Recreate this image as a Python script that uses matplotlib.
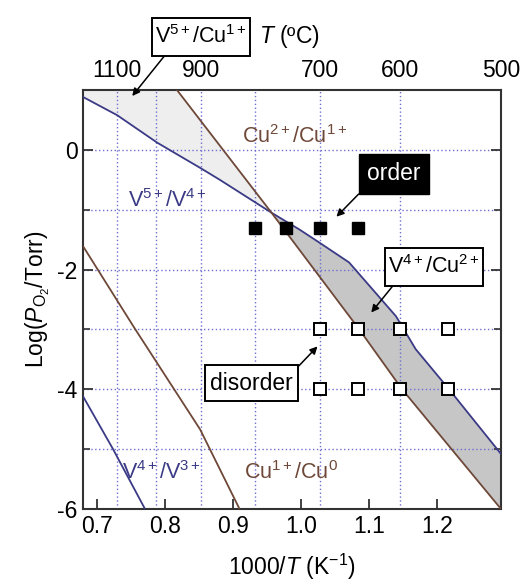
import numpy as np
import matplotlib
matplotlib.use("Agg")
import matplotlib.pyplot as plt
from matplotlib.path import Path

plt.rcParams['font.family'] = ['Liberation Sans', 'DejaVu Sans']
plt.rcParams['mathtext.fontset'] = 'custom'
plt.rcParams['mathtext.rm'] = 'Liberation Sans'
plt.rcParams['mathtext.it'] = 'Liberation Sans:italic'
plt.rcParams['mathtext.bf'] = 'Liberation Sans:bold'
plt.rcParams['axes.unicode_minus'] = False

# Redox boundaries: x = 1000/T (K^-1), y = log(PO2 / Torr)
v54_x = [0.6795, 0.729, 0.788, 0.851, 0.880, 0.956, 0.997, 1.0265, 1.070, 1.139, 1.168, 1.217, 1.2934]
v54_y = [0.88, 0.58, 0.12, -0.30, -0.50, -1.05, -1.33, -1.55, -1.88, -2.78, -3.33, -4.00, -5.08]

cu21_x = [0.817, 0.956, 1.085, 1.148, 1.2934]
cu21_y = [1.00, -1.05, -3.00, -4.00, -6.00]

v43_x = [0.6795, 0.723, 0.770]
v43_y = [-4.13, -5.00, -6.00]

cu10_x = [0.6795, 0.753, 0.851, 0.909]
cu10_y = [-1.62, -2.95, -4.67, -6.00]

# Experimental conditions (temperature in degC, log PO2)
order_T = [800, 750, 700, 650]
order_logp = [-1.3, -1.3, -1.3, -1.3]
disorder_T = [700, 650, 600, 550, 700, 650, 600, 550]
disorder_logp = [-3, -3, -3, -3, -4, -4, -4, -4]

# Top axis temperature ticks (degC)
top_T = [1100, 1000, 900, 800, 700, 600, 500]
top_labels = ['1100', '', '900', '', '700', '600', '500']

bottom_ticks = [0.7, 0.8, 0.9, 1.0, 1.1, 1.2]
y_ticks = [0, -2, -4, -6]
y_grid = [0, -1, -2, -3, -4, -5]


def inv_t(tc):
    return 1000.0 / (np.asarray(tc, dtype=float) + 273.15)


def pad_box(padx, pady):
    """Rectangular box style with separate horizontal / vertical padding."""
    def style(x0, y0, width, height, mutation_size):
        px, py = padx * mutation_size, pady * mutation_size
        xa, ya = x0 - px, y0 - py
        xb, yb = x0 + width + px, y0 + height + py
        return Path([(xa, ya), (xb, ya), (xb, yb), (xa, yb), (xa, ya)],
                    [Path.MOVETO, Path.LINETO, Path.LINETO, Path.LINETO, Path.CLOSEPOLY])
    return style


navy = '#3a3a86'
brown = '#6e4838'
grid_c = '#6e6ed0'

fig = plt.figure(figsize=(5.26, 5.85), dpi=100)
ax = fig.add_axes([0.1578, 0.1299, 0.7947, 0.7162])

xlo, xhi = inv_t(1200), inv_t(500)
ax.set_xlim(xlo, xhi)
ax.set_ylim(-6, 1)

# grid
for gx in inv_t(top_T[:-1]):
    ax.axvline(gx, color=grid_c, lw=1.0, ls=(0, (1, 1.8)), zorder=1)
for gy in y_grid:
    ax.axhline(gy, color=grid_c, lw=1.0, ls=(0, (1, 1.8)), zorder=1)

# shaded stability regions
xs = np.linspace(xlo, xhi, 800)
v54 = np.interp(xs, v54_x, v54_y)
cu21 = np.interp(xs, cu21_x, cu21_y, left=1.5)
xc = 0.956
m1 = xs <= xc
ax.fill_between(xs[m1], v54[m1], np.minimum(1.0, cu21[m1]), color='#eeeeee', zorder=0.5, lw=0)
m2 = xs >= xc
ax.fill_between(xs[m2], cu21[m2], v54[m2], color='#c6c6c6', zorder=0.5, lw=0)

ax.plot(v54_x, v54_y, color=navy, lw=1.3, zorder=3)
ax.plot(v43_x, v43_y, color=navy, lw=1.3, zorder=3)
ax.plot(cu21_x, cu21_y, color=brown, lw=1.3, zorder=3)
ax.plot(cu10_x, cu10_y, color=brown, lw=1.3, zorder=3)

ax.plot(inv_t(order_T), order_logp, ls='none', marker='s', ms=9,
        mfc='black', mec='black', zorder=4)
ax.plot(inv_t(disorder_T), disorder_logp, ls='none', marker='s', ms=9,
        mfc='white', mec='black', mew=1.4, zorder=4)

fs = 16.5
fs_ion = 15.5
ax.text(0.7454, -0.95, r'V$^{5+}$/V$^{4+}$', color=navy, fontsize=fs_ion, ha='left', va='baseline', zorder=5)
ax.text(0.9120, 0.117, r'Cu$^{2+}$/Cu$^{1+}$', color=brown, fontsize=fs_ion, ha='left', va='baseline', zorder=5)
ax.text(0.7366, -5.5, r'V$^{4+}$/V$^{3+}$', color=navy, fontsize=fs_ion, ha='left', va='baseline', zorder=5)
ax.text(0.9150, -5.5, r'Cu$^{1+}$/Cu$^{0}$', color=brown, fontsize=fs_ion, ha='left', va='baseline', zorder=5)

arrow = dict(arrowstyle='-|>', color='black', lw=1.1, mutation_scale=11, shrinkA=0, shrinkB=0)

ax.annotate('order', xy=(1.0514, -1.117), xytext=(1.136, -0.40),
            ha='center', va='center', color='white', fontsize=fs, zorder=6,
            bbox=dict(boxstyle=pad_box(0.35, 0.38), fc='black', ec='black'),
            arrowprops=dict(arrow, relpos=(0.0, 0.0)))
ax.annotate(r'V$^{4+}$/Cu$^{2+}$', xy=(1.1026, -2.717), xytext=(1.195, -1.95),
            ha='center', va='center', color='black', fontsize=fs_ion, zorder=6,
            bbox=dict(boxstyle=pad_box(0.15, 0.35), fc='white', ec='black', lw=1.4),
            arrowprops=dict(arrow, relpos=(0.12, 0.0)))
ax.annotate('disorder', xy=(1.0236, -3.283), xytext=(0.927, -3.90),
            ha='center', va='center', color='black', fontsize=fs, zorder=6,
            bbox=dict(boxstyle=pad_box(0.22, 0.28), fc='white', ec='black', lw=1.4),
            arrowprops=dict(arrow, relpos=(1.0, 1.0)))
ax.annotate(r'V$^{5+}$/Cu$^{1+}$', xy=(0.7512, 0.9), xycoords='data',
            xytext=(0.282, 1.127), textcoords='axes fraction',
            ha='center', va='center', color='black', fontsize=fs_ion, zorder=6,
            bbox=dict(boxstyle=pad_box(0.15, 0.35), fc='white', ec='black', lw=1.4),
            arrowprops=dict(arrow, relpos=(0.17, 0.0)), annotation_clip=False)

# axes styling
for s in ax.spines.values():
    s.set_linewidth(1.5)
    s.set_color('#333333')

ax.set_xticks(bottom_ticks)
ax.set_xticklabels([f'{t:.1f}' for t in bottom_ticks])
ax.set_yticks(y_ticks)
ax.set_yticklabels([str(t) for t in y_ticks])
ax.set_yticks([-1, -3, -5], minor=True)
ax.tick_params(axis='both', which='major', direction='in', length=7, width=1.3,
               labelsize=fs, color='#333333', pad=4)
ax.tick_params(axis='y', which='minor', direction='in', length=5, width=1.2, color='#333333')
ax.tick_params(axis='y', which='both', right=True)

ax.set_xlabel(r'1000/$\mathit{T}$ (K$^{-1}$)', fontsize=fs, labelpad=10)
ax.set_ylabel(r'Log($\mathit{P}_{\mathrm{O}_2}$/Torr)', fontsize=fs, labelpad=4)

top = ax.secondary_xaxis('top')
top.set_xticks(inv_t(top_T))
top.set_xticklabels(top_labels)
top.tick_params(length=0, labelsize=fs, pad=6)
top.spines['top'].set_visible(False)

fig.text(259 / 526, 1 - 43 / 585, r'$\mathit{T}$ (ºC)', fontsize=fs, ha='left', va='baseline')

fig.savefig('out.png', dpi=100)
